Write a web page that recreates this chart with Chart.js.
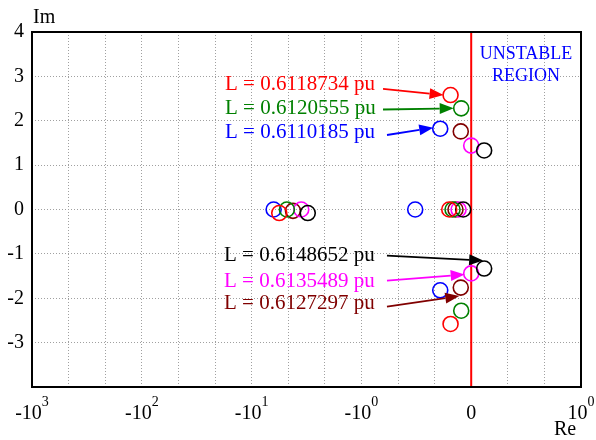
<!DOCTYPE html>
<html>
<head>
<meta charset="utf-8">
<script src="https://cdn.jsdelivr.net/npm/chart.js@4"></script>
<style>
  body { margin: 0; background: #fff; }
  canvas { display: block; }
</style>
</head>
<body>
<canvas id="eigChart" width="596" height="440"></canvas>
<script>
// x tick values (real axis, symmetric log) and how they are written
const xTickValues = [-1000, -100, -10, -1, 0, 1];
const xTickBase = ['-10', '-10', '-10', '-10', '0', '10'];
const xTickExp = ['3', '2', '1', '0', '', '0'];

const seriesNames = [
  'L = 0.6118734 pu', 'L = 0.6120555 pu', 'L = 0.6110185 pu',
  'L = 0.6148652 pu', 'L = 0.6135489 pu', 'L = 0.6127297 pu'
];

// eigenvalues: real and imaginary parts
const redRe = [-0.188, -0.188, -5.6, -0.20];
const redIm = [2.58, -2.58, -0.08, 0];
const greenRe = [-0.091, -0.091, -4.77, -0.17];
const greenIm = [2.28, -2.28, 0, 0];
const blueRe = [-0.282, -0.282, -6.3, -0.51];
const blueIm = [1.82, -1.82, 0, 0];
const blackRe = [0.118, 0.118, -3.08, -0.073];
const blackIm = [1.33, -1.33, -0.08, 0];
const magentaRe = [0, 0, -3.53, -0.115];
const magentaIm = [1.44, -1.44, 0, 0];
const maroonRe = [-0.095, -0.095, -4.2, -0.143];
const maroonIm = [1.76, -1.76, -0.03, 0];

const seriesColors = ['#ff0000', '#008000', '#0000ff', '#000000', '#ff00ff', '#800000'];
const FONT = "'Liberation Serif', 'Times New Roman', serif";

// symmetric log: one decade per unit, linear between -1 and 1
function toU(re) {
  if (re <= -1) return 3 - Math.log10(-re);
  if (re < 1) return 4 + re;
  return 5 + Math.log10(re);
}

function pts(re, im) {
  return re.map((r, i) => ({x: toU(r), y: im[i]}));
}

const allRe = [redRe, greenRe, blueRe, blackRe, magentaRe, maroonRe];
const allIm = [redIm, greenIm, blueIm, blackIm, magentaIm, maroonIm];

// label / arrow layout (x in axis units, y in Im units)
const notes = [
  {s: 0, lx: 1.758, ly: 2.806, sx: 3.197, sy: 2.716, p: 0, dx: -7, dy: 0},
  {s: 1, lx: 1.758, ly: 2.287, sx: 3.197, sy: 2.254, p: 0, dx: -7.5, dy: 0},
  {s: 2, lx: 1.758, ly: 1.746, sx: 3.233, sy: 1.679, p: 0, dx: -7, dy: -1},
  {s: 3, lx: 1.749, ly: -1.025, sx: 3.233, sy: -1.041, p: 1, dx: -1, dy: -8},
  {s: 4, lx: 1.749, ly: -1.627, sx: 3.233, sy: -1.605, p: 1, dx: -6.5, dy: 1},
  {s: 5, lx: 1.749, ly: -2.114, sx: 3.233, sy: -2.19, p: 1, dx: -1.5, dy: 8.5}
];

function arrow(c, x0, y0, x1, y1, col) {
  const a = Math.atan2(y1 - y0, x1 - x0);
  const len = 14, hw = 5.5;
  const bx = x1 - len * Math.cos(a), by = y1 - len * Math.sin(a);
  c.strokeStyle = col;
  c.fillStyle = col;
  c.lineWidth = 1.8;
  c.beginPath();
  c.moveTo(x0, y0);
  c.lineTo(bx, by);
  c.stroke();
  c.beginPath();
  c.moveTo(x1, y1);
  c.lineTo(bx + hw * Math.sin(a), by - hw * Math.cos(a));
  c.lineTo(bx - hw * Math.sin(a), by + hw * Math.cos(a));
  c.closePath();
  c.fill();
}

const decorPlugin = {
  id: 'decor',
  afterDraw(chart) {
    const c = chart.ctx;
    const xs = chart.scales.x, ys = chart.scales.y;
    const area = chart.chartArea;
    c.save();

    // frame
    c.strokeStyle = '#000';
    c.lineWidth = 2;
    c.strokeRect(area.left, area.top, area.right - area.left, area.bottom - area.top);

    // x tick labels with exponents
    c.fillStyle = '#000';
    c.textBaseline = 'alphabetic';
    c.textAlign = 'left';
    xTickValues.forEach((v, i) => {
      const px = xs.getPixelForValue(toU(v));
      c.font = '20px ' + FONT;
      const wb = c.measureText(xTickBase[i]).width;
      c.font = '14px ' + FONT;
      const we = xTickExp[i] ? c.measureText(xTickExp[i]).width : 0;
      const x0 = px - (wb + we) / 2;
      c.font = '20px ' + FONT;
      c.fillText(xTickBase[i], x0, 419);
      if (xTickExp[i]) {
        c.font = '14px ' + FONT;
        c.fillText(xTickExp[i], x0 + wb, 406);
      }
    });

    // axis names
    c.font = '20px ' + FONT;
    c.fillText('Im', 33, 23);
    c.fillText('Re', 554, 435);

    // unstable region
    c.fillStyle = '#0000ff';
    c.font = '18px ' + FONT;
    c.textAlign = 'center';
    c.textBaseline = 'middle';
    c.fillText('UNSTABLE', 526, 54);
    c.fillText('REGION', 526, 76);

    // series labels and arrows
    c.font = '21px ' + FONT;
    c.textAlign = 'left';
    notes.forEach(n => {
      const col = seriesColors[n.s];
      c.fillStyle = col;
      c.fillText(seriesNames[n.s], xs.getPixelForValue(n.lx), ys.getPixelForValue(n.ly));
      const pt = chart.getDatasetMeta(n.s + 1).data[n.p];
      arrow(c, xs.getPixelForValue(n.sx), ys.getPixelForValue(n.sy), pt.x + n.dx, pt.y + n.dy, col);
    });
    c.restore();
  }
};

const datasets = [{
  type: 'line',
  data: [{x: toU(0), y: -4}, {x: toU(0), y: 4}],
  borderColor: '#ff0000',
  borderWidth: 2,
  pointRadius: 0,
  showLine: true,
  order: 10
}];
seriesNames.forEach((name, i) => {
  datasets.push({
    label: name,
    data: pts(allRe[i], allIm[i]),
    borderColor: seriesColors[i],
    backgroundColor: 'rgba(0,0,0,0)',
    pointRadius: 7.5,
    pointBorderWidth: 1.6,
    pointHoverRadius: 7.5,
    order: 1
  });
});

new Chart(document.getElementById('eigChart'), {
  type: 'scatter',
  data: {datasets},
  options: {
    responsive: false,
    animation: false,
    events: [],
    layout: {padding: {top: 32, right: 15, left: 0, bottom: 0}},
    plugins: {legend: {display: false}, tooltip: {enabled: false}},
    scales: {
      x: {
        type: 'linear',
        min: 0,
        max: 5,
        afterBuildTicks: s => { s.ticks = Array.from({length: 16}, (_, i) => ({value: i / 3})); },
        afterFit: s => { s.height = 53; },
        ticks: {display: false},
        grid: {color: '#a0a0a0', lineWidth: 1, drawTicks: false},
        border: {display: false, dash: [1, 2]}
      },
      y: {
        min: -4,
        max: 4,
        afterFit: s => { s.width = 32; },
        ticks: {
          stepSize: 1,
          padding: 8,
          color: '#000',
          font: {family: FONT, size: 20},
          callback: v => (v === -4 ? '' : String(v))
        },
        grid: {color: '#a0a0a0', lineWidth: 1, drawTicks: false},
        border: {display: false, dash: [1, 2]}
      }
    }
  },
  plugins: [decorPlugin]
});
</script>
</body>
</html>
